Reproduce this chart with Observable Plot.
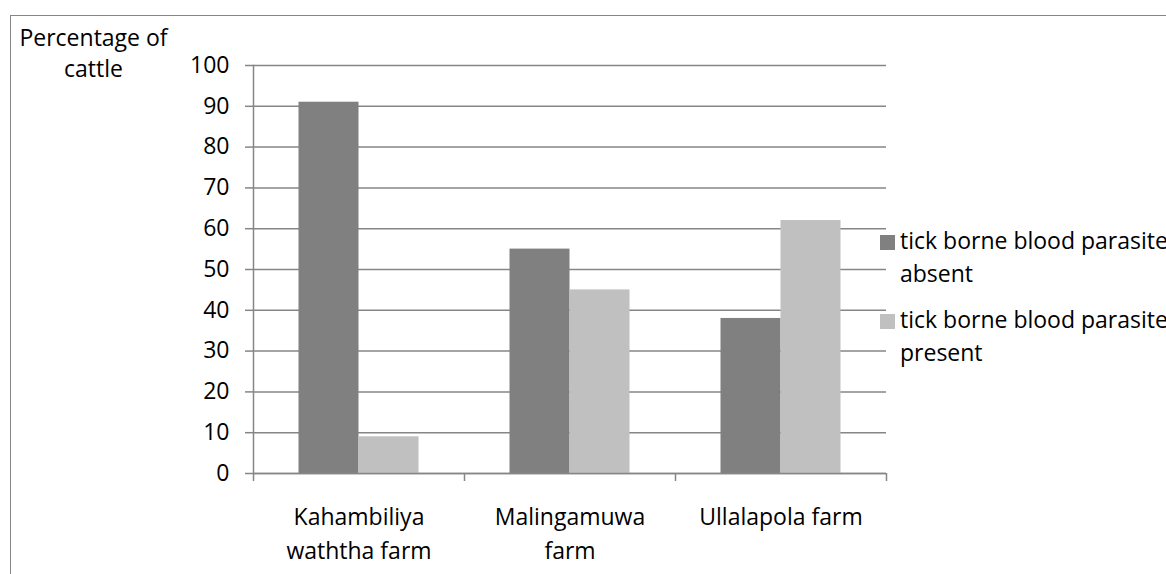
<!DOCTYPE html>
<html>
<head>
<meta charset="utf-8">
<script src="https://cdn.jsdelivr.net/npm/d3@7"></script>
<script src="https://cdn.jsdelivr.net/npm/@observablehq/plot@0.6"></script>
<style>
  html, body { margin: 0; padding: 0; background: #fff; }
  body { width: 1166px; height: 574px; overflow: hidden; position: relative;
         font-family: "Open Sans", sans-serif; color: #000; }
  #frame { position: absolute; left: 10px; top: 15px; width: 1300px; height: 700px;
           border-top: 1.5px solid #868686; border-left: 1.5px solid #868686; box-sizing: border-box; }
  #chart { position: absolute; left: 0; top: 0; }
  #ylabel { position: absolute; left: 0; top: 22px; width: 187px; text-align: center;
            font-size: 23px; line-height: 31px; }
  #legend { position: absolute; left: 880px; top: 224px; font-size: 23px; line-height: 33px; white-space: nowrap; }
  .entry { position: relative; padding-left: 20px; margin-bottom: 13px; }
  .swatch { position: absolute; left: 0; top: 11px; width: 15px; height: 15px; }
</style>
</head>
<body>
<div id="frame"></div>
<div id="chart"></div>
<div id="ylabel">Percentage of<br>cattle</div>
<div id="legend"></div>
<script>
// Farms (categories) and their wrapped tick labels
const farms = ["Kahambiliya waththa farm", "Malingamuwa farm", "Ullalapola farm"];
const farmTickLabels = ["Kahambiliya\nwaththa farm", "Malingamuwa\nfarm", "Ullalapola farm"];

// Series names and legend labels
const series = ["tick borne blood parasite absent", "tick borne blood parasite present"];
const legendLabels = [["tick borne blood parasite", "absent"], ["tick borne blood parasite", "present"]];

// Percentage of cattle per farm
const absentValues = [91, 55, 38];
const presentValues = [9, 45, 62];

// Y axis ticks
const yTicks = [0, 10, 20, 30, 40, 50, 60, 70, 80, 90, 100];

const seriesColors = ["#808080", "#c0c0c0"];
const lineColor = "#868686";

const rows = farms.flatMap((farm, i) => [
  {farm, series: series[0], value: absentValues[i]},
  {farm, series: series[1], value: presentValues[i]}
]);

const W = 1166, H = 574;
const mL = 253, mR = 280, mT = 65, mB = 101;
const band = (W - mL - mR) / farms.length;
const barW = 60;
const inset = (band - barW) / 2;

const chart = Plot.plot({
  width: W,
  height: H,
  marginLeft: mL,
  marginRight: mR,
  marginTop: mT,
  marginBottom: mB,
  style: {fontFamily: '"Open Sans", sans-serif', fontSize: "23px", color: "#000", background: "transparent", overflow: "visible"},
  x: {domain: farms, padding: 0, round: false},
  y: {domain: [0, 100]},
  color: {domain: series, range: seriesColors},
  marks: [
    Plot.gridY(yTicks, {stroke: lineColor, strokeOpacity: 1, strokeWidth: 1.5}),
    Plot.barY(rows.filter(d => d.series === series[0]), {
      x: "farm", y: "value", fill: "series", insetLeft: inset, insetRight: inset, dx: -barW / 2
    }),
    Plot.barY(rows.filter(d => d.series === series[1]), {
      x: "farm", y: "value", fill: "series", insetLeft: inset, insetRight: inset, dx: barW / 2
    }),
    Plot.frame({anchor: "left", stroke: lineColor, strokeWidth: 1.5}),
    Plot.ruleY([0], {stroke: lineColor, strokeWidth: 1.5}),
    // category boundary ticks below the x axis
    Plot.ruleX(farms, {x: d => d, y1: 0, y2: 0, dx: -band / 2, insetBottom: -8, stroke: lineColor, strokeWidth: 1.5}),
    Plot.ruleX(farms.slice(-1), {x: d => d, y1: 0, y2: 0, dx: band / 2, insetBottom: -8, stroke: lineColor, strokeWidth: 1.5}),
    Plot.axisY({ticks: yTicks, tickSize: 8, tickPadding: 16, stroke: lineColor, strokeWidth: 1.5, fontSize: 23, label: null}),
    Plot.axisX({tickSize: 0, tickPadding: 28, tickFormat: d => farmTickLabels[farms.indexOf(d)], lineHeight: 1.45, fontSize: 23, label: null})
  ]
});
document.getElementById("chart").appendChild(chart);

// Legend built from the color scale
const color = chart.scale("color");
const legend = document.getElementById("legend");
series.forEach((s, i) => {
  const entry = document.createElement("div");
  entry.className = "entry";
  const sw = document.createElement("span");
  sw.className = "swatch";
  sw.style.background = color.apply(s);
  entry.appendChild(sw);
  legendLabels[i].forEach(line => {
    const t = document.createElement("div");
    t.textContent = line;
    entry.appendChild(t);
  });
  legend.appendChild(entry);
});
</script>
</body>
</html>
